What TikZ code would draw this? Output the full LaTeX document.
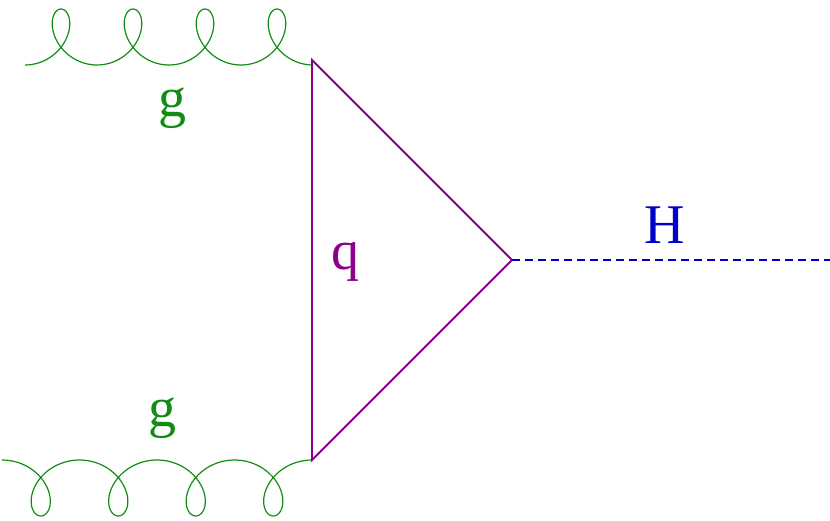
\documentclass[tikz,border=0pt]{standalone}
\usepackage{fontspec}
\setmainfont{Liberation Serif}
\definecolor{gl}{RGB}{20,140,20}
\definecolor{qc}{RGB}{140,0,140}
\definecolor{hc}{RGB}{0,0,200}
\begin{document}
\begin{tikzpicture}[x=1pt,y=1pt,
  lab/.style={font=\fontsize{56}{60}\selectfont},
  gluon/.style={gl,line width=1.2pt},
  quark/.style={qc,line width=1.8pt},
  higgs/.style={hc,line width=1.8pt,dash pattern=on 8pt off 5pt}]
\useasboundingbox (0,0) rectangle (830,520);
\coordinate (T) at (312,460);
\coordinate (B) at (312,60);
\coordinate (V) at (512,260);
\coordinate (E) at (830,260);
\draw[gluon,smooth,samples=240,domain=180:1620,variable=\t]
  plot ({25+72*((\t-180)/360)-24*sin(\t)},{483+28*cos(\t)});
\draw[gluon,smooth,samples=240,domain=180:1620,variable=\t]
  plot ({2+77.5*((\t-180)/360)-26*sin(\t)},{32-28*cos(\t)});
\draw[quark] (T) -- (B) -- (V) -- cycle;
\draw[higgs] (V) -- (E);
\node[lab,gl] (g1) at (172,412) {g};
\node[lab,gl] (g2) at (162,102) {g};
\node[lab,qc] (q) at (345,258) {q};
\node[lab,hc] (H) at (665,295) {H};
\end{tikzpicture}
\end{document}
